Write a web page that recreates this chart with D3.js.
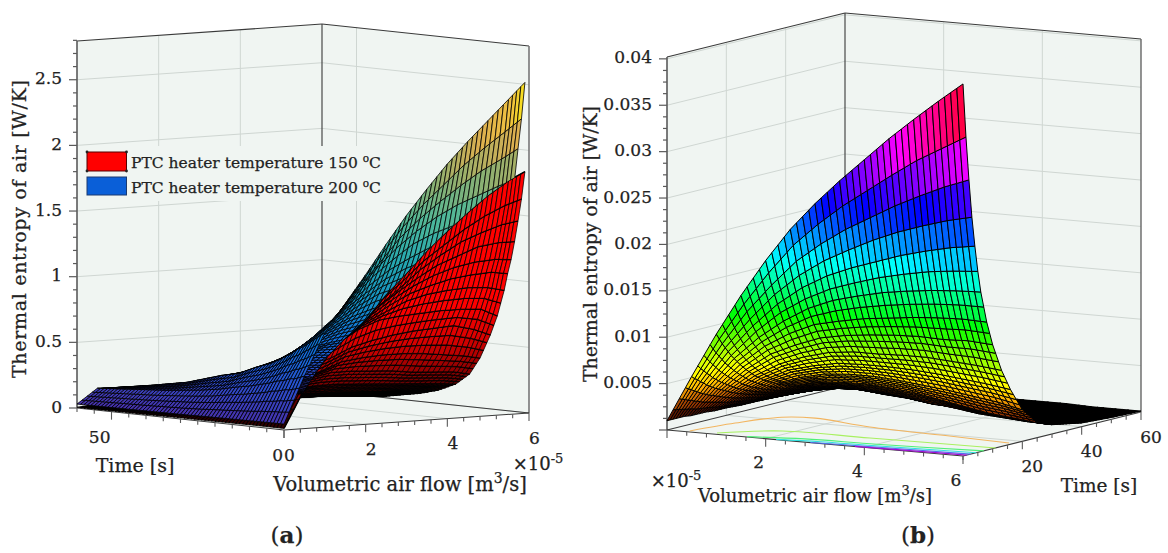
<!DOCTYPE html>
<html><head><meta charset="utf-8">
<script src="https://cdn.jsdelivr.net/npm/d3@7"></script>
<style>html,body{margin:0;background:#fff}svg{display:block}text{font-family:"DejaVu Serif",serif;fill:#222;stroke:#222;stroke-width:.25px}</style>
</head><body><svg id="c" width="1168" height="553"></svg>
<script>
// Surface samples. Rows follow timeSamples, columns follow the flow arrays.
const timeSamples=[0,1,2,3,4,5,6,8,10,13,16,20,25,30,40,50,60];
const flowA=[0,.5,1,1.5,2,2.5,3,3.5,4,4.5,5,5.5,5.9];
const flowB=[0,.5,1,1.5,2,2.5,3,3.5,4,4.5,5,5.5,6];
const entropy200=[
[.045,.40,.72,.93,1.14,1.36,1.57,1.76,1.94,2.10,2.25,2.40,2.52],
[.045,.39,.70,.89,1.09,1.29,1.48,1.64,1.78,1.92,2.04,2.15,2.24],
[.045,.38,.68,.85,1.04,1.21,1.39,1.53,1.65,1.76,1.86,1.94,2.01],
[.045,.37,.66,.82,.99,1.16,1.31,1.43,1.53,1.61,1.67,1.73,1.77],
[.045,.37,.64,.79,.94,1.10,1.22,1.33,1.40,1.45,1.51,1.56,1.59],
[.044,.36,.62,.76,.90,1.03,1.14,1.22,1.29,1.33,1.37,1.40,1.41],
[.044,.35,.60,.74,.86,.97,1.07,1.14,1.19,1.23,1.25,1.26,1.26],
[.044,.34,.57,.68,.78,.87,.95,.99,1.02,1.03,1.05,1.04,1.03],
[.043,.32,.53,.63,.71,.78,.83,.86,.87,.88,.88,.86,.83],
[.042,.30,.48,.56,.62,.67,.70,.71,.71,.68,.68,.65,.62],
[.041,.28,.44,.50,.54,.57,.59,.58,.57,.55,.53,.49,.45],
[.040,.26,.40,.43,.46,.48,.47,.46,.44,.40,.36,.34,.30],
[.038,.23,.34,.37,.37,.37,.36,.33,.30,.26,.24,.20,.18],
[.036,.21,.31,.31,.31,.29,.26,.24,.21,.17,.15,.12,.10],
[.034,.18,.23,.22,.20,.18,.16,.12,.10,.07,.06,.05,.04],
[.032,.16,.18,.16,.13,.10,.08,.06,.05,.04,.03,.03,.02],
[.030,.14,.135,.125,.09,.07,.05,.04,.03,.03,.02,.02,.02]];
const entropy150=[
[.012,.30,.52,.67,.80,.98,1.13,1.29,1.43,1.56,1.68,1.78,1.84],
[.012,.29,.51,.65,.77,.94,1.07,1.21,1.32,1.43,1.52,1.59,1.63],
[.012,.29,.49,.63,.74,.89,1.01,1.14,1.24,1.33,1.39,1.44,1.46],
[.012,.28,.48,.61,.71,.86,.97,1.07,1.16,1.22,1.28,1.30,1.30],
[.012,.28,.47,.60,.69,.82,.92,1.01,1.08,1.13,1.16,1.17,1.16],
[.012,.27,.46,.58,.67,.78,.87,.95,1.00,1.04,1.06,1.07,1.05],
[.012,.27,.45,.57,.64,.75,.82,.89,.93,.95,.96,.95,.92],
[.012,.26,.43,.54,.60,.69,.75,.77,.78,.79,.79,.78,.72],
[.012,.22,.36,.43,.48,.55,.59,.62,.64,.65,.66,.62,.57],
[.011,.17,.27,.32,.37,.43,.45,.46,.46,.45,.43,.41,.385],
[.011,.15,.24,.29,.31,.34,.34,.33,.32,.30,.29,.28,.255],
[.010,.13,.20,.22,.22,.23,.23,.22,.21,.20,.19,.18,.167],
[.010,.10,.14,.15,.15,.16,.15,.15,.14,.13,.13,.12,.107],
[.010,.075,.10,.11,.10,.11,.10,.10,.10,.09,.09,.085,.07],
[.008,.044,.057,.06,.064,.064,.068,.065,.06,.05,.04,.03,.02],
[.008,.027,.036,.04,.04,.044,.04,.039,.031,.023,.015,.008,.002],
[.006,.02,.02,.02,.02,.02,.015,.01,.01,.005,0,0,0]];
const entropyB=[
[.0010,.0060,.0108,.0152,.0192,.0228,.0258,.0285,.0310,.0335,.0358,.0380,.0401],
[.0010,.0057,.0102,.0142,.0178,.0210,.0235,.0257,.0276,.0295,.0313,.0328,.0343],
[.0010,.0055,.0096,.0133,.0164,.0192,.0213,.0231,.0246,.0261,.0274,.0286,.0296],
[.0010,.0052,.0091,.0124,.0153,.0176,.0194,.0208,.0221,.0232,.0241,.0249,.0255],
[.0010,.0050,.0086,.0116,.0142,.0162,.0177,.0188,.0197,.0206,.0213,.0219,.0223],
[.0010,.0047,.0081,.0109,.0132,.0149,.0162,.0171,.0179,.0185,.0190,.0193,.0195],
[.0010,.0045,.0077,.0102,.0122,.0138,.0149,.0156,.0162,.0166,.0169,.0171,.0172],
[.0009,.0041,.0069,.0091,.0107,.0119,.0125,.0130,.0133,.0136,.0138,.0139,.0138],
[.0009,.0038,.0062,.0081,.0093,.0103,.0108,.0111,.0113,.0114,.0113,.0114,.0112],
[.0009,.0033,.0053,.0068,.0078,.0085,.0088,.0088,.0089,.0089,.0087,.0085,.0082],
[.0008,.0029,.0046,.0059,.0066,.0071,.0072,.0072,.0071,.0069,.0066,.0063,.0059],
[.0008,.0025,.0039,.0048,.0054,.0056,.0056,.0054,.0051,.0048,.0044,.0040,.0034],
[.0007,.0021,.0032,.0039,.0041,.0042,.0040,.0037,.0032,.0027,.0022,.0019,.0016],
[.0007,.0018,.0027,.0031,.0032,.0030,.0027,.0022,.0019,.0015,.0013,.0011,.0010],
[.0006,.0013,.0018,.0019,.0016,.0014,.0010,.0009,.0008,.0007,.0006,.0005,.0004],
[.0005,.0009,.0011,.0009,.0008,.0007,.0006,.0005,.0004,.0003,.0003,.0002,.0002],
[.0004,.0006,.0006,.0005,.0004,.0003,.0003,.0002,.0002,.0002,.0001,.0001,.0001]];
// Floor contours of panel b as [flow, time] pairs with their colours.
const contourColors=["#f2b560","#a8f060","#50f078","#30e0e0","#5070f0","#a010d0"];
const contours=[
[[.4,1],[.6,13],[.94,23],[1.5,25],[2.85,21],[4.5,19],[5.9,17.2]],
[[.93,1.4],[1.79,9.2],[3.52,9.9],[6,11]],
[[1.6,.4],[2.6,3.2],[4,4.2],[6,7]],
[[2.2,.2],[3,1.8],[4,2.5],[6,4.5]],
[[2.9,.1],[4,1.2],[6,2.5]],
[[3.8,.1],[5,.8],[6,1.2]]];
const zTicksA=[0,.5,1,1.5,2,2.5], zTickLabelsA=["0","0.5","1","1.5","2","2.5"];
const zTicksB=[.005,.01,.015,.02,.025,.03,.035,.04], zTickLabelsB=["0.005","0.01","0.015","0.02","0.025","0.03","0.035","0.04"];
const flowTicks=[2,4,6];
const legendLabels=["PTC heater temperature 150 ","PTC heater temperature 200 "];
const legendColors=["#ff0000","#0a5fd8"];

const svg=d3.select("#c");
const wallFill="#f0f5f2", gridCol="#cfd6d2", edge="#3a3a3a", axisCol="#5a5a5a";

function makeProj(o){
  const fx=d3.scaleLinear([0,6],[0,o.fdx]), fy=d3.scaleLinear([0,6],[0,o.fdy]);
  const tx=d3.scaleLinear([0,60],[0,o.tdx]), ty=d3.scaleLinear([0,60],[0,o.tdy]);
  const zy=d3.scaleLinear([0,o.zmax],[0,o.h]);
  return (f,t,z=0)=>[o.x0+fx(f)+tx(t),o.y0+fy(f)+ty(t)-zy(z)];
}
const line=d3.line();
function drawBox(g,P,o){
  const zt=o.zmax;
  const poly=(pts,fill)=>g.append("polygon").attr("points",pts.join(" ")).attr("fill",fill);
  poly([P(0,60),P(6,60),P(6,60,zt),P(0,60,zt)].map(String),wallFill);
  poly([P(6,60),P(6,0),P(6,0,zt),P(6,60,zt)].map(String),wallFill);
  poly([P(0,0),P(6,0),P(6,60),P(0,60)].map(String),wallFill);
  poly([P(0,0),P(0,60),P(0,60,zt),P(0,0,zt)].map(String),wallFill);
  const seg=(a,b,c,w)=>g.append("path").attr("d",line([a,b])).attr("stroke",c).attr("stroke-width",w).attr("fill","none");
  o.zTicks.forEach(z=>{o.wallsZ.forEach(w=>seg(P(...w[0],z),P(...w[1],z),gridCol,1));});
  o.gridLines.forEach(l=>seg(l[0],l[1],gridCol,1));
  o.edges(P).forEach(e=>seg(e[0],e[1],e[2]||edge,e[3]||1.1));
}
function drawTicks(g,P,o){
  const seg=(a,b,w)=>g.append("path").attr("d",line([a,b])).attr("stroke",axisCol).attr("stroke-width",w).attr("fill","none");
  const axisStart=o.zCorner;
  d3.range(0,Math.round(o.zmax/o.zMinor)+1).forEach(i=>{
    const z=i*o.zMinor, major=o.zTicks.some(v=>Math.abs(v-z)<1e-9)||i===0;
    const p=P(...axisStart,z); seg(p,[p[0]-(major?8:4),p[1]],1.2);
  });
  d3.range(0,6.001,.4).forEach(f=>{const p=P(f,o.fEdgeT);const m=Math.abs(f/2-Math.round(f/2))<.01;seg(p,[p[0],p[1]+(m?8:4)],1.1);});
  d3.range(0,60.1,5).forEach(t=>{const p=P(o.tEdgeF,t);const m=o.tMajor.includes(t);seg(p,[p[0],p[1]+(m?8:4)],1.1);});
}
function label(g,x,y,txt,size,anchor="middle",rot=null,len=null){
  const t=g.append("text").attr("x",x).attr("y",y).attr("font-size",size).attr("text-anchor",anchor).attr("dominant-baseline","middle").text(txt);
  if(rot!==null)t.attr("transform",`rotate(${rot} ${x} ${y})`);
  if(len)t.attr("textLength",len);
  return t;
}
const lerp=(a,b,u)=>a+(b-a)*u;
// Values come from the sample tables; the mesh lines inside a sampled cell are a linear
// subdivision for display only, at the mesh pitch of the original plot.
function sampler(flows,matrix){
  return (f,t)=>{
    let j=Math.max(0,Math.min(d3.bisectRight(flows,f)-1,flows.length-2)), i=Math.max(0,Math.min(d3.bisectRight(timeSamples,t)-1,timeSamples.length-2));
    const u=(f-flows[j])/(flows[j+1]-flows[j]), v=(t-timeSamples[i])/(timeSamples[i+1]-timeSamples[i]);
    return lerp(lerp(matrix[i][j],matrix[i][j+1],u),lerp(matrix[i+1][j],matrix[i+1][j+1],u),v);
  };
}
function meshFlows(flows){const out=[];for(let j=0;j<flows.length-1;j++)for(let k=0;k<4;k++)out.push(flows[j]+(flows[j+1]-flows[j])*k/4);out.push(flows[flows.length-1]);return out;}
function drawSurface(g,P,flows,matrix,color,sw,rowW){
  const S=sampler(flows,matrix), fs=meshFlows(flows), ts=d3.range(0,61);
  for(let i=ts.length-2;i>=0;i--){
    const row=d3.range(fs.length-1).map(j=>{
      const a=[fs[j],ts[i]],b=[fs[j+1],ts[i]],c=[fs[j+1],ts[i+1]],d=[fs[j],ts[i+1]];
      const q=[a,b,c,d];
      const zs=q.map(p=>S(p[0],p[1]));
      return {pts:q.map((p,k)=>P(p[0],p[1],zs[k])),z:d3.mean(zs)};
    });
    g.selectAll(null).data(row).join("path")
      .attr("d",d=>line(d.pts)+"Z").attr("fill",d=>color(d.z)).attr("stroke","#000").attr("stroke-width",sw).attr("stroke-linejoin","round");
    if(rowW) g.append("path").attr("d",line(fs.map(f=>P(f,ts[i],S(f,ts[i]))))).attr("fill","none").attr("stroke","#000").attr("stroke-width",rowW);
  }
}

// ---------- panel a ----------
(function(){
  const o={x0:284,y0:430,fdx:245,fdy:-17,tdx:-207,tdy:-22,zmax:2.795,h:367,zMinor:.1,zTicks:zTicksA,zCorner:[0,60],fEdgeT:0,tEdgeF:0,tMajor:[0,50]};
  const P=makeProj(o);
  o.wallsZ=[[[0,60],[6,60]],[[6,60],[6,0]]];
  o.gridLines=[[P(2,60),P(2,60,o.zmax)],[P(4,60),P(4,60,o.zmax)],[P(6,50),P(6,50,o.zmax)],
    [P(2,0),P(2,60)],[P(4,0),P(4,60)],[P(0,50),P(6,50)]];
  o.edges=P=>[[P(0,60,o.zmax),P(6,60,o.zmax)],[P(6,60,o.zmax),P(6,0,o.zmax)],[P(6,60),P(6,60,o.zmax)],
    [P(0,60),P(0,60,o.zmax),axisCol,1.6],[P(6,0),P(6,0,o.zmax),"#777",1.6],[P(0,60),P(0,0)],[P(0,0),P(6,0)],[P(6,60),P(6,0)],[P(0,60),P(6,60),"#999",1]];
  const g=svg.append("g");
  drawBox(g,P,o);
  // legend backing sits under the surfaces, above the wall grid
  g.append("rect").attr("x",80).attr("y",146).attr("width",310).attr("height",55).attr("fill",wallFill);
  drawTicks(g,P,o);
  const jet=d3.scaleLinear().domain([0,.3,.6,.9,1.2,1.5,1.8,2.1,2.3,2.45]).range(["#4a2da6","#2a4ecc","#1070dc","#1590c4","#25a8b0","#4fb898","#90b070","#dcb050","#f0c040","#ffff00"]);
  const redShade=d3.scaleLinear().domain([.1,.25,.55,.85]).range(["#300000","#800000","#d80000","#ff0000"]).clamp(true);
  const gm=g.append("g"), S150=sampler(flowA,entropy150);
  drawSurface(gm,P,flowA,entropy150,redShade,.75,1.5);
  const edgePts=meshFlows(flowA).map(f=>P(f,0,S150(f,0)));
  const last=edgePts[edgePts.length-1];
  svg.append("clipPath").attr("id","aboveRed").append("polygon").attr("points",[[edgePts[0][0],553],...edgePts,[last[0]+4,last[1]],[last[0]+4,0],[0,0],[0,553]].join(" "));
  drawSurface(g.append("g").attr("clip-path","url(#aboveRed)"),P,flowA,entropy200,jet,.8,0);
  legendLabels.forEach((s,i)=>{
    const y=i?177:152;
    g.append("rect").attr("x",87).attr("y",y).attr("width",39.5).attr("height",i?18:19).attr("fill",legendColors[i]).attr("stroke",i?"#1a3a70":"#500").attr("stroke-width",1);
    if(!i)[[87,152],[126.5,152],[87,171],[126.5,171]].forEach(c=>g.append("circle").attr("cx",c[0]).attr("cy",c[1]).attr("r",1.4).attr("fill","#222"));
    const t=g.append("text").attr("x",131).attr("y",y+12).attr("font-size",15.5).attr("dominant-baseline","middle").text(s);
    t.append("tspan").attr("dy",-5).attr("font-size",10.5).text("o");
    t.append("tspan").attr("dy",5).text("C");
  });
  zTicksA.forEach((z,i)=>{const p=P(0,60,z);label(g,p[0]-15,p[1],zTickLabelsA[i],17,"end");});
  [2,4,6,0].forEach(f=>{const p=P(f,0);label(g,p[0]+5.5,p[1]+26,String(f),17);});
  [50,0].forEach(t=>{const p=P(0,t);label(g,p[0]-1,p[1]+(t?27:26),String(t),17,"end");});
  label(g,135,467,"Time [s]",19);
  const ex=label(g,538,465,"×10",18); ex.append("tspan").attr("dy",-6).attr("font-size",13).text("-5");
  const fl=label(g,400,485,"Volumetric air flow [m",19.5); fl.append("tspan").attr("dy",-6).attr("font-size",14).text("3"); fl.append("tspan").attr("dy",6).text("/s]");
  label(g,21,229,"Thermal entropy of air  [W/K]",19,"middle",-90,298);
  const cap=label(g,287,537,"(",23); cap.append("tspan").attr("font-weight",700).text("a"); cap.append("tspan").text(")");
})();

// ---------- panel b ----------
(function(){
  const o={x0:667,y0:430,fdx:296,fdy:26,tdx:178,tdy:-44,zmax:.0402,h:373,zMinor:.00125,zTicks:zTicksB,zCorner:[0,0],fEdgeT:0,tEdgeF:6,tMajor:[20,40,60]};
  const P=makeProj(o);
  o.wallsZ=[[[0,0],[0,60]],[[0,60],[6,60]]];
  o.gridLines=[[P(0,20),P(0,20,o.zmax)],[P(0,40),P(0,40,o.zmax)],[P(2,60),P(2,60,o.zmax)],[P(4,60),P(4,60,o.zmax)],
    [P(2,0),P(2,60)],[P(4,0),P(4,60)],[P(0,20),P(6,20)],[P(0,40),P(6,40)]];
  o.edges=P=>[[P(0,0,o.zmax),P(0,60,o.zmax)],[P(0,60,o.zmax),P(6,60,o.zmax)],[P(0,60),P(0,60,o.zmax)],
    [P(0,0),P(0,0,o.zmax),axisCol,1.6],[P(6,60),P(6,60,o.zmax),"#666",1.4],[P(0,0),P(6,0)],[P(6,0),P(6,60)],[P(0,0),P(0,60)],[P(0,60),P(6,60),"#999",1]];
  const g=svg.append("g");
  drawBox(g,P,o); drawTicks(g,P,o);
  const hueOf=d3.scaleLinear([0,.0387],[0,360]).clamp(true);
  const lightOf=d3.scaleLinear([.0006,.0022,.0045],[.03,.28,.5]).clamp(true);
  const hsv=z=>d3.hsl(hueOf(z),1,lightOf(z)).toString();
  const cl=d3.line().curve(d3.curveCatmullRom.alpha(.5));
  contours.forEach((c,i)=>g.append("path").attr("d",cl(c.map(p=>P(p[0],p[1])))).attr("fill","none").attr("stroke",contourColors[i]).attr("stroke-width",1.1));
  drawSurface(g.append("g"),P,flowB,entropyB,hsv,1,0);
  zTicksB.forEach((z,i)=>{const p=P(0,0,z);label(g,p[0]-15,p[1],zTickLabelsB[i],17,"end");});
  flowTicks.forEach(f=>{const p=P(f,0);label(g,p[0]-7,p[1]+25,String(f),17);});
  [20,40,60].forEach(t=>{const p=P(6,t);label(g,p[0]+10,p[1]+26,String(t),17);});
  label(g,1099,487,"Time [s]",18.5);
  const ex=label(g,676,482,"×10",18); ex.append("tspan").attr("dy",-6).attr("font-size",13).text("-5");
  const fl=label(g,815,497,"Volumetric air flow [m",18); fl.append("tspan").attr("dy",-6).attr("font-size",13).text("3"); fl.append("tspan").attr("dy",6).text("/s]");
  label(g,592,244,"Thermal entropy of air [W/K]",19,"middle",-90,276);
  const cap=label(g,918,537,"(",23); cap.append("tspan").attr("font-weight",700).text("b"); cap.append("tspan").text(")");
})();
</script></body></html>
